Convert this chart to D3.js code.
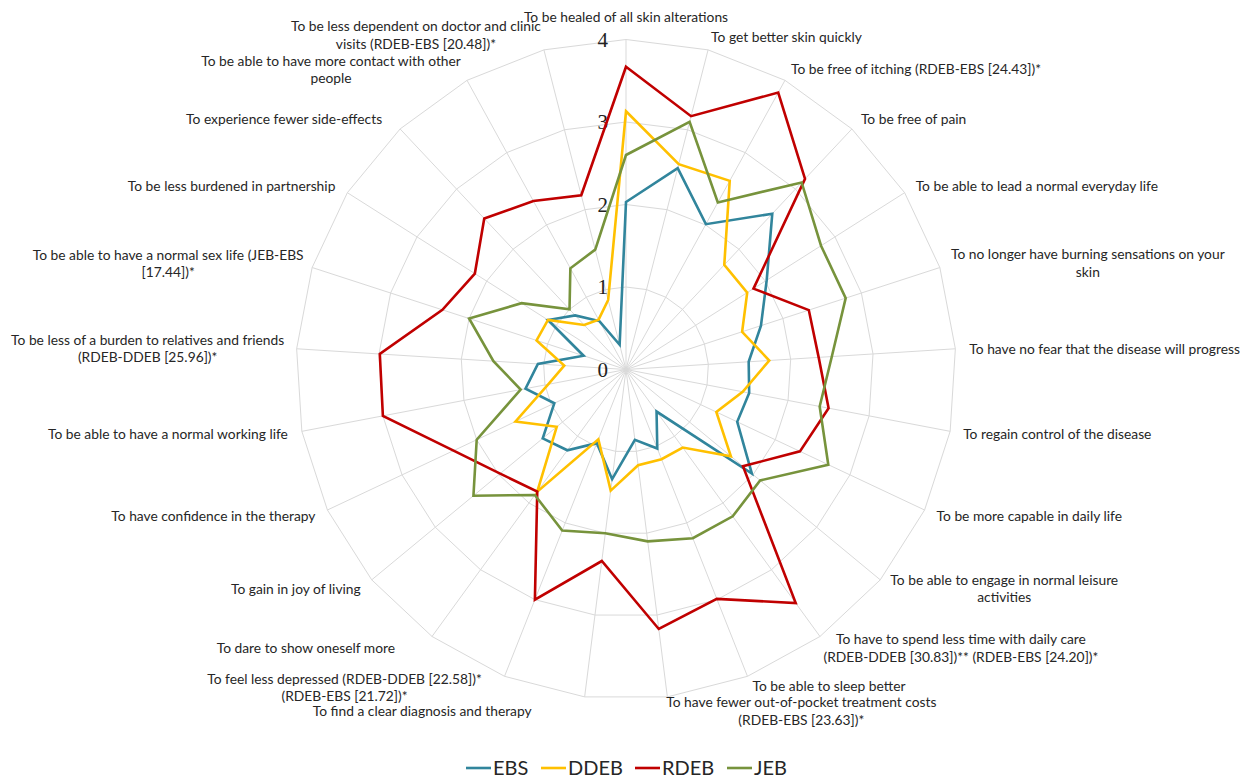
<!DOCTYPE html>
<html>
<head>
<meta charset="utf-8">
<script src="https://cdn.jsdelivr.net/npm/d3@7"></script>
<style>
  html, body { margin: 0; padding: 0; background: #fff; }
  svg { display: block; }
</style>
</head>
<body>
<svg id="chart" width="1249" height="780"></svg>
<script>
// ---------- data ----------
const categories = [
  ["To be healed of all skin alterations"],
  ["To get better skin quickly"],
  ["To be free of itching (RDEB-EBS [24.43])*"],
  ["To be free of pain"],
  ["To be able to lead a normal everyday life"],
  ["To no longer have burning sensations on your", "skin"],
  ["To have no fear that the disease will progress"],
  ["To regain control of the disease"],
  ["To be more capable in daily life"],
  ["To be able to engage in normal leisure", "activities"],
  ["To have to spend less time with daily care", "(RDEB-DDEB [30.83])**  (RDEB-EBS [24.20])*"],
  ["To be able to sleep better"],
  ["To have fewer out-of-pocket treatment costs", "(RDEB-EBS [23.63])*"],
  ["To find a clear diagnosis and therapy"],
  ["To feel less depressed (RDEB-DDEB [22.58])*", "(RDEB-EBS [21.72])*"],
  ["To dare to show oneself more"],
  ["To gain in joy of living"],
  ["To have confidence in the therapy"],
  ["To be able to have a normal working life"],
  ["To be less of a burden to relatives and friends", "(RDEB-DDEB [25.96])*"],
  ["To be able to have a normal sex life (JEB-EBS", "[17.44])*"],
  ["To be less burdened in partnership"],
  ["To experience fewer side-effects"],
  ["To be able to have more contact with other", "people"],
  ["To be less dependent on doctor and clinic", "visits (RDEB-EBS [20.48])*"]
];

const seriesNames = ["EBS", "DDEB", "RDEB", "JEB"];

const ebsValues  = [2.03, 2.52, 2.01, 2.59, 2.02, 1.72, 1.49, 1.52, 1.49, 1.98, 0.63, 1.03, 0.86, 1.34, 0.96, 1.21, 1.31, 0.96, 1.24, 1.07, 0.54, 1.12, 0.90, 0.67, 0.31];
const ddebValues = [3.13, 2.57, 2.61, 1.74, 1.74, 1.48, 1.74, 1.44, 1.21, 1.65, 1.17, 1.17, 1.17, 1.48, 0.91, 1.83, 1.09, 1.48, 0.96, 0.75, 1.14, 1.12, 0.74, 0.69, 0.87];
const rdebValues = [3.67, 3.17, 3.83, 3.17, 1.83, 2.33, 2.34, 2.50, 2.33, 1.84, 3.50, 2.99, 3.17, 2.34, 3.00, 1.83, 1.98, 2.31, 3.00, 2.99, 2.34, 2.17, 2.51, 2.33, 2.18];
const jebValues  = [2.60, 3.10, 2.31, 3.11, 2.80, 2.80, 2.50, 2.39, 2.71, 2.11, 2.20, 2.20, 2.10, 2.00, 2.10, 1.88, 2.40, 2.00, 1.30, 1.61, 2.00, 1.50, 1.00, 1.40, 1.50];

const tickValues = [0, 1, 2, 3, 4];
const tickLabels = ["0", "1", "2", "3", "4"];

// ---------- layout / style ----------
const colors = ["#31859C", "#FFC000", "#C00000", "#77933C"];
const cx = 626, cy = 369.5, R = 330;
// label placement relative to spoke end: [dx, dy, anchor]
const labelLayout = [
  [0, -22.5, "middle"], [3, -13, "start"], [6, -11, "start"], [9, -10, "start"],
  [11, -7, "start"], [148, -4.5, "middle"], [14, 0, "start"], [13, 3, "start"],
  [12, 6, "start"], [124, 9, "middle"], [141, 11.5, "middle"], [5, 10, "start"],
  [134, 14.5, "middle"], [-53, 14.5, "end"], [-160, 11.5, "middle"], [-37, 11.5, "end"],
  [-11, 9, "end"], [-12, 6, "end"], [-14, 3, "end"], [-149, 0, "middle"],
  [-144, -4, "middle"], [-12, -7, "end"], [-18, -10, "end"], [-136, -10.5, "middle"],
  [-128, -14.5, "middle"]
];

const svg = d3.select("#chart");
const g = svg.append("g").attr("transform", `translate(${cx},${cy})`);

const n = categories.length;
const angle = d3.scaleLinear().domain([0, n]).range([0, 2 * Math.PI]);
const r = d3.scaleLinear().domain([0, 4]).range([0, R]);

// grid rings (polygons)
const ringLine = d3.lineRadial()
  .angle((d, i) => angle(i))
  .radius(d => r(d))
  .curve(d3.curveLinearClosed);

tickValues.filter(t => t > 0).forEach(t => {
  g.append("path")
    .attr("d", ringLine(d3.range(n).map(() => t)))
    .attr("fill", "none")
    .attr("stroke", "#d9d9d9")
    .attr("stroke-width", 1);
});

// spokes
g.selectAll("line.spoke")
  .data(d3.range(n))
  .join("line")
  .attr("class", "spoke")
  .attr("x1", 0).attr("y1", 0)
  .attr("x2", i => r(4) * Math.sin(angle(i)))
  .attr("y2", i => -r(4) * Math.cos(angle(i)))
  .attr("stroke", "#d9d9d9")
  .attr("stroke-width", 1);

// tick labels
g.selectAll("text.tick")
  .data(tickValues)
  .join("text")
  .attr("class", "tick")
  .attr("x", -18)
  .attr("y", d => -r(d))
  .attr("dy", "0.35em")
  .attr("text-anchor", "end")
  .attr("font-family", "'Liberation Serif', 'DejaVu Serif', serif")
  .attr("font-size", 21)
  .attr("fill", "#222")
  .text((d, i) => tickLabels[i]);

// series
const allSeries = [ebsValues, ddebValues, rdebValues, jebValues];
const seriesLine = d3.lineRadial()
  .angle((d, i) => angle(i))
  .radius(d => r(d))
  .curve(d3.curveLinearClosed);

allSeries.forEach((vals, si) => {
  g.append("path")
    .attr("d", seriesLine(vals))
    .attr("fill", "none")
    .attr("stroke", colors[si])
    .attr("stroke-width", 2.6)
    .attr("stroke-linejoin", "miter");
});

// category labels
const lineH = 17.5;
categories.forEach((lines, i) => {
  const ex = r(4) * Math.sin(angle(i));
  const ey = -r(4) * Math.cos(angle(i));
  const [dx, dy, anchor] = labelLayout[i];
  const t = g.append("text")
    .attr("x", ex + dx)
    .attr("y", ey + dy - (lines.length - 1) * lineH / 2)
    .attr("text-anchor", anchor)
    .attr("font-family", "Lato, 'Open Sans', sans-serif")
    .attr("font-size", 13.8)
    .attr("fill", "#262626");
  lines.forEach((ln, j) => {
    t.append("tspan")
      .attr("x", ex + dx)
      .attr("dy", j === 0 ? "0.35em" : lineH)
      .text(ln);
  });
});

// legend
const legendG = svg.append("g").attr("transform", "translate(0,768)");
const legendX = [466, 541, 635, 727];
seriesNames.forEach((name, i) => {
  const lg = legendG.append("g").attr("transform", `translate(${legendX[i]},0)`);
  lg.append("line")
    .attr("x1", 0).attr("x2", 25).attr("y1", 0).attr("y2", 0)
    .attr("stroke", colors[i]).attr("stroke-width", 2.6);
  lg.append("text")
    .attr("x", 27).attr("y", 0).attr("dy", "0.35em")
    .attr("font-family", "Lato, 'Open Sans', sans-serif")
    .attr("font-size", 20)
    .attr("fill", "#262626")
    .text(name);
});
</script>
</body>
</html>
